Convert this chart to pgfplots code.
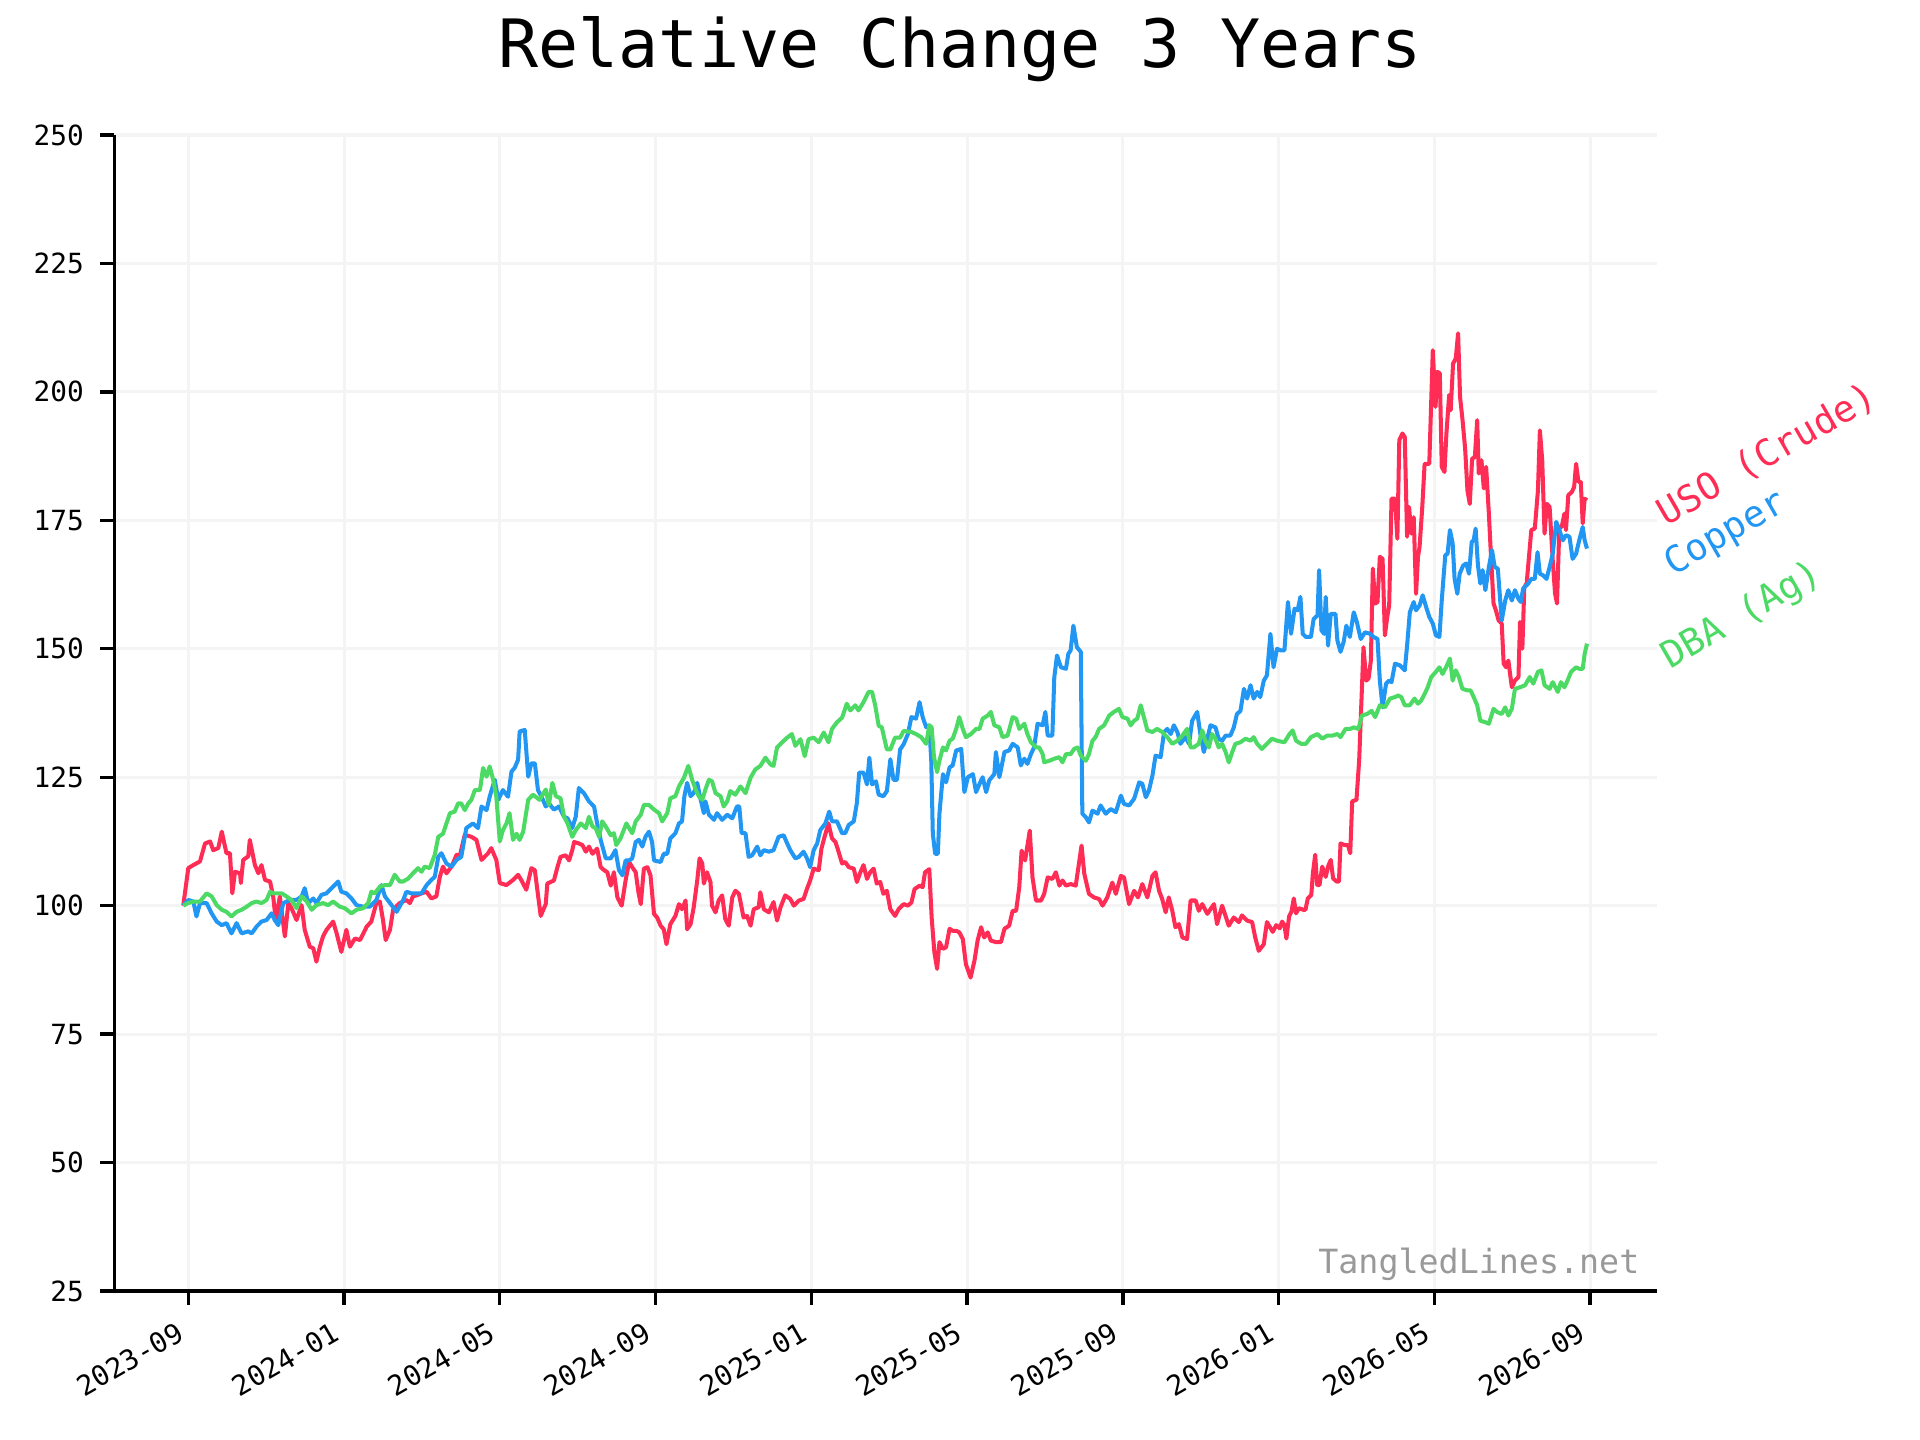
\documentclass[border=0pt]{standalone}
\usepackage{pgfplots}
\pgfplotsset{compat=1.18}
\usepackage{fontspec}
\setmainfont{DejaVu Sans Mono}
\definecolor{uso}{HTML}{FF2D55}
\definecolor{cop}{HTML}{2196F3}
\definecolor{dba}{HTML}{4CD964}
\definecolor{gridc}{HTML}{F4F4F4}
\definecolor{wm}{HTML}{999999}
\begin{document}
\begin{tikzpicture}
\useasboundingbox (0,0) rectangle (691.2pt,518.4pt);
\node[anchor=base, font=\fontsize{24}{28}\selectfont, inner sep=0pt] at (345.6pt,494pt) {Relative Change 3 Years};
\begin{axis}[
  at={(41.15pt,53.64pt)}, anchor=south west,
  scale only axis, width=555.26pt, height=416.16pt,
  xmin=-1.90, xmax=37.71, ymin=25, ymax=250,
  axis x line*=bottom, axis y line*=left,
  xtick={0,4,8,12,16,20,24,28,32,36},
  xticklabels={2023-09,2024-01,2024-05,2024-09,2025-01,2025-05,2025-09,2026-01,2026-05,2026-09},
  ytick={25,50,75,100,125,150,175,200,225,250},
  grid=major, major grid style={gridc, line width=1.1pt},
  tick align=outside, major tick length=5pt,
  every tick/.style={black, line width=1.2pt},
  axis line style={black, line width=1.2pt},
  tick label style={font=\fontsize{10}{12}\selectfont},
  /pgf/number format/assume math mode=true,
  yticklabel style={anchor=east, inner sep=0pt, xshift=-5.8pt},
  xticklabel style={xshift=-4.6pt, yshift=-5.5pt, rotate=30, anchor=north east, inner sep=0pt},
  clip=false,
  every axis plot/.append style={line width=1.45pt, line join=round},
]
\addplot[uso] coordinates {
(-0.13,100) (0,107.3) (0.13,107.9) (0.30,108.6) (0.43,112.1) (0.56,112.5) (0.64,110.8) (0.77,111.2) (0.86,114.4) (0.98,110.2)
(1.07,110.2) (1.13,102.4) (1.20,106.6) (1.33,106.3) (1.35,104.4) (1.41,108.9) (1.54,109.6) (1.58,112.8) (1.71,107.9) (1.80,106.3)
(1.88,107.9) (1.97,105.0) (2.10,104.7) (2.18,101.8) (2.25,96.9) (2.35,101.8) (2.48,94.0) (2.57,100.5) (2.65,99.5) (2.78,97.2)
(2.91,100.1) (2.99,95.3) (3.12,92.0) (3.21,91.7) (3.29,89.1) (3.38,92.0) (3.46,94.0) (3.55,95.3) (3.72,96.9) (3.81,94.6)
(3.93,91.0) (4.06,95.3) (4.15,92.0) (4.28,93.6) (4.41,93.3) (4.58,95.9) (4.70,96.9) (4.83,100.5) (4.92,100.8) (5.00,97.2)
(5.07,93.3) (5.18,95.3) (5.26,99.2) (5.43,100.5) (5.60,101.1) (5.69,100.5) (5.77,101.8) (5.90,102.1) (5.99,102.4) (6.12,102.7)
(6.24,101.4) (6.37,101.8) (6.46,105.6) (6.54,107.6) (6.63,106.3) (6.76,107.6) (6.89,109.9) (6.97,109.6) (7.10,113.8) (7.27,113.4)
(7.40,112.8) (7.53,108.9) (7.70,110.2) (7.78,111.2) (7.91,108.9) (8.00,104.4) (8.17,104.0) (8.34,105.0) (8.47,106.0) (8.55,105.0)
(8.68,103.1) (8.81,107.3) (8.90,106.9) (8.98,102.1) (9.05,98.0) (9.18,100.3) (9.22,104.3) (9.39,104.9) (9.48,107.5) (9.56,109.5)
(9.69,109.8) (9.78,108.8) (9.86,110.8) (9.91,112.4) (10.03,112.1) (10.12,111.8) (10.21,110.5) (10.29,111.5) (10.38,110.1) (10.50,111.1)
(10.59,107.5) (10.68,106.9) (10.76,106.5) (10.85,103.9) (10.93,106.5) (11.02,101.6) (11.13,100.0) (11.23,104.9) (11.32,108.5) (11.40,107.5)
(11.49,106.5) (11.56,102.6) (11.62,100.3) (11.70,107.2) (11.79,107.5) (11.87,105.9) (11.96,98.4) (12.04,97.7) (12.13,96.1) (12.21,95.4)
(12.28,92.5) (12.38,96.4) (12.51,98.0) (12.60,100.3) (12.68,99.3) (12.77,101.0) (12.81,95.4) (12.90,96.4) (12.98,99.7) (13.07,104.9)
(13.13,109.2) (13.20,108.2) (13.24,104.3) (13.32,106.5) (13.41,104.6) (13.45,100.0) (13.54,98.7) (13.62,101.0) (13.71,102.0) (13.79,97.4)
(13.88,96.1) (13.97,101.6) (14.05,102.9) (14.14,102.3) (14.26,97.7) (14.35,98.0) (14.44,96.1) (14.52,99.3) (14.65,99.7) (14.69,102.6)
(14.78,99.3) (14.91,98.7) (15.03,100.7) (15.12,97.1) (15.21,99.7) (15.33,102.0) (15.46,101.3) (15.55,100.0) (15.68,101.0) (15.80,101.3)
(15.89,103.3) (15.97,104.9) (16.06,107.2) (16.19,106.9) (16.26,111.1) (16.34,113.4) (16.44,116.0) (16.53,113.1) (16.62,112.4) (16.70,110.5)
(16.79,108.2) (16.87,108.5) (16.96,107.5) (17.09,107.2) (17.17,104.6) (17.26,106.5) (17.34,107.9) (17.43,105.2) (17.51,106.5) (17.60,107.2)
(17.68,104.3) (17.77,104.6) (17.85,102.3) (17.94,102.9) (18.03,99.3) (18.15,98.0) (18.24,99.3) (18.37,100.3) (18.48,100.0) (18.57,100.6)
(18.65,103.2) (18.78,103.9) (18.86,103.6) (18.92,106.5) (19.03,107.1) (19.09,97.7) (19.16,90.9) (19.23,87.7) (19.29,92.9) (19.38,91.6)
(19.46,91.9) (19.55,95.5) (19.63,95.1) (19.72,95.1) (19.80,94.8) (19.89,93.5) (19.97,88.6) (20.09,86.0) (20.19,89.3) (20.27,93.2)
(20.36,95.8) (20.44,93.8) (20.53,94.8) (20.61,93.2) (20.74,92.9) (20.87,92.9) (20.96,95.5) (21.08,96.1) (21.17,99.0) (21.26,99.0)
(21.34,103.6) (21.40,110.7) (21.49,108.8) (21.61,114.6) (21.68,105.5) (21.77,101.0) (21.90,101.0) (21.98,102.3) (22.07,105.5) (22.19,105.2)
(22.28,106.5) (22.37,103.9) (22.45,104.9) (22.54,103.9) (22.66,104.2) (22.79,103.9) (22.84,106.5) (22.94,111.7) (23.01,106.2) (23.13,102.3)
(23.26,101.6) (23.39,101.3) (23.48,100.0) (23.60,101.6) (23.73,104.5) (23.82,102.3) (23.95,105.8) (24.03,105.5) (24.16,100.3) (24.29,102.9)
(24.39,101.6) (24.50,104.2) (24.63,101.6) (24.76,105.8) (24.84,106.5) (24.93,102.9) (25.01,101.3) (25.10,98.7) (25.18,101.6) (25.27,99.0)
(25.35,95.8) (25.44,96.4) (25.53,93.8) (25.65,93.5) (25.74,101.0) (25.87,101.0) (25.95,99.0) (26.04,100.3) (26.17,98.4) (26.34,100.3)
(26.42,96.4) (26.55,100.0) (26.72,96.1) (26.85,97.7) (26.98,96.8) (27.06,98.1) (27.19,97.1) (27.32,96.8) (27.40,93.8) (27.49,91.2)
(27.62,92.5) (27.70,96.8) (27.85,94.9) (27.94,96.2) (28.03,95.6) (28.09,96.9) (28.15,96.2) (28.20,93.6) (28.27,97.9) (28.33,98.8)
(28.39,101.4) (28.45,98.5) (28.52,99.5) (28.63,99.2) (28.69,99.2) (28.75,101.4) (28.84,102.1) (28.88,106.3) (28.94,109.9) (28.99,104.0)
(29.05,104.0) (29.12,107.6) (29.21,105.6) (29.27,107.6) (29.34,108.9) (29.40,105.3) (29.49,104.7) (29.55,104.7) (29.59,112.1) (29.70,111.8)
(29.78,111.8) (29.84,110.2) (29.89,120.3) (30.00,120.6) (30.07,128.4) (30.18,150.3) (30.25,143.8) (30.31,144.2) (30.37,147.7) (30.42,165.6)
(30.48,158.8) (30.54,159.1) (30.60,167.9) (30.67,167.5) (30.73,152.6) (30.79,156.2) (30.84,158.4) (30.90,179.2) (30.99,179.2) (31.05,171.4)
(31.10,190.6) (31.18,191.9) (31.24,191.2) (31.30,171.8) (31.35,177.6) (31.41,172.4) (31.47,175.6) (31.53,160.7) (31.58,167.9) (31.62,169.8)
(31.69,177.6) (31.75,186.0) (31.87,186.0) (31.96,208.1) (32.03,197.1) (32.08,203.9) (32.14,203.6) (32.19,185.4) (32.26,184.4) (32.31,191.9)
(32.38,199.4) (32.42,196.4) (32.48,205.5) (32.55,206.5) (32.61,211.4) (32.66,199.0) (32.72,194.8) (32.79,189.0) (32.85,180.8) (32.91,178.2)
(32.97,187.0) (33.04,187.3) (33.10,194.5) (33.14,184.1) (33.21,186.7) (33.27,181.2) (33.33,185.4) (33.40,176.3) (33.46,167.2) (33.52,158.8)
(33.58,157.5) (33.65,155.5) (33.73,154.9) (33.78,147.1) (33.84,146.4) (33.90,147.7) (33.99,142.5) (34.07,143.8) (34.16,144.5) (34.20,155.2)
(34.26,150.0) (34.31,162.0) (34.37,162.7) (34.43,167.9) (34.49,173.1) (34.58,173.4) (34.66,180.8) (34.71,192.5) (34.77,186.7) (34.83,172.4)
(34.89,178.2) (34.96,177.6) (35.04,167.2) (35.10,160.7) (35.15,158.8) (35.21,173.7) (35.27,173.7) (35.34,176.3) (35.38,173.1) (35.44,179.9)
(35.53,180.5) (35.59,181.5) (35.64,186.0) (35.70,182.5) (35.76,182.5) (35.81,174.4) (35.86,179.2) (35.92,178.9)
};
\addplot[cop] coordinates {
(-0.13,100) (0,101.1) (0.13,100.8) (0.21,97.9) (0.30,100.5) (0.47,100.5) (0.60,98.5) (0.73,96.9) (0.86,96.2) (0.98,96.6)
(1.11,94.6) (1.24,96.6) (1.37,94.6) (1.54,95.0) (1.63,94.6) (1.75,95.9) (1.88,96.9) (2.01,97.2) (2.14,98.5) (2.22,97.2)
(2.31,96.2) (2.44,100.5) (2.61,101.1) (2.78,101.1) (2.91,101.8) (2.99,103.4) (3.08,100.5) (3.21,101.4) (3.29,100.5) (3.42,102.1)
(3.55,102.4) (3.72,103.7) (3.85,104.7) (3.93,102.7) (4.06,102.4) (4.19,101.4) (4.32,100.1) (4.49,99.8) (4.66,99.8) (4.83,101.1)
(4.96,104.0) (5.05,101.8) (5.18,100.5) (5.35,98.8) (5.52,101.1) (5.60,102.7) (5.73,102.4) (5.86,102.4) (5.99,102.4) (6.12,104.0)
(6.24,105.0) (6.33,105.6) (6.42,109.5) (6.50,110.2) (6.63,108.2) (6.76,107.6) (6.89,108.9) (7.01,109.5) (7.14,115.1) (7.31,116.0)
(7.44,115.1) (7.53,119.3) (7.66,118.6) (7.74,121.2) (7.87,124.5) (7.96,120.6) (8.08,122.5) (8.21,121.2) (8.30,126.1) (8.38,126.8)
(8.47,128.4) (8.51,133.9) (8.64,134.2) (8.73,125.1) (8.81,127.7) (8.90,127.7) (8.98,122.5) (9.09,120.9) (9.18,119.3) (9.26,119.9)
(9.39,118.7) (9.52,119.3) (9.65,117.3) (9.74,117.0) (9.86,115.1) (9.95,117.3) (10.03,122.9) (10.16,121.9) (10.29,120.3) (10.42,119.3)
(10.50,116.0) (10.59,112.8) (10.72,109.2) (10.85,109.2) (10.97,110.8) (11.06,106.9) (11.15,105.9) (11.23,108.8) (11.32,108.8) (11.40,109.2)
(11.49,112.4) (11.57,112.8) (11.66,111.5) (11.74,113.4) (11.83,114.4) (11.91,112.4) (11.96,108.8) (12.13,108.5) (12.21,110.1) (12.30,110.1)
(12.38,113.1) (12.51,114.1) (12.60,116.0) (12.68,116.4) (12.74,121.3) (12.81,123.9) (12.90,121.3) (12.98,121.9) (13.07,123.9) (13.15,120.9)
(13.24,118.0) (13.28,120.3) (13.37,117.7) (13.50,116.7) (13.58,118.0) (13.71,116.7) (13.84,117.7) (13.97,117.0) (14.09,119.3) (14.15,119.3)
(14.21,114.1) (14.31,114.1) (14.39,109.5) (14.48,109.8) (14.61,111.5) (14.69,109.8) (14.78,110.8) (14.91,110.5) (15.03,110.8) (15.16,113.4)
(15.29,113.7) (15.38,112.1) (15.46,110.8) (15.59,109.2) (15.68,109.5) (15.80,110.5) (15.89,109.2) (15.97,107.5) (16.06,110.8) (16.15,112.1)
(16.23,114.7) (16.36,116.0) (16.46,118.3) (16.53,116.4) (16.66,116.4) (16.79,114.1) (16.87,114.1) (16.96,115.7) (17.09,116.4) (17.17,120.0)
(17.23,125.9) (17.34,125.9) (17.43,123.6) (17.49,128.8) (17.56,123.6) (17.66,124.2) (17.73,121.6) (17.85,121.3) (17.94,122.3) (18.03,128.5)
(18.11,124.5) (18.20,124.5) (18.28,130.4) (18.37,131.4) (18.48,133.4) (18.57,136.7) (18.69,136.4) (18.78,139.6) (18.86,136.7) (18.95,134.7)
(19.03,135.1) (19.08,128.2) (19.12,114.0) (19.18,110.1) (19.25,110.1) (19.29,117.9) (19.38,125.6) (19.46,124.0) (19.55,126.9) (19.63,127.3)
(19.72,130.2) (19.85,130.5) (19.93,122.1) (20.02,125.0) (20.15,125.6) (20.23,122.1) (20.32,123.7) (20.40,125.0) (20.49,122.1) (20.57,124.4)
(20.70,125.6) (20.74,129.9) (20.83,125.0) (20.96,129.9) (21.08,130.2) (21.17,131.5) (21.30,130.8) (21.38,127.3) (21.47,128.6) (21.55,127.6)
(21.64,129.5) (21.72,130.8) (21.81,135.4) (21.94,135.1) (22.01,137.7) (22.07,133.1) (22.19,133.1) (22.24,144.5) (22.31,148.7) (22.41,146.4)
(22.54,146.1) (22.60,149.0) (22.66,149.7) (22.73,154.5) (22.82,150.3) (22.92,149.4) (22.96,117.9) (23.05,117.2) (23.13,116.2) (23.22,118.5)
(23.35,117.9) (23.43,119.5) (23.56,117.9) (23.69,118.8) (23.82,118.2) (23.95,121.4) (24.03,119.8) (24.16,119.5) (24.29,120.8) (24.42,124.0)
(24.50,123.7) (24.59,121.1) (24.67,122.4) (24.76,125.3) (24.84,129.2) (24.97,128.9) (25.06,133.8) (25.14,134.4) (25.23,133.4) (25.31,135.1)
(25.40,133.8) (25.48,131.5) (25.61,132.8) (25.70,131.5) (25.78,136.0) (25.91,137.7) (25.99,133.4) (26.08,129.9) (26.17,132.5) (26.25,135.1)
(26.38,134.7) (26.46,132.5) (26.55,132.1) (26.64,133.1) (26.76,133.1) (26.85,134.7) (26.93,137.3) (27.02,137.9) (27.11,142.2) (27.19,140.3)
(27.28,142.9) (27.36,140.3) (27.45,141.6) (27.53,140.6) (27.62,143.8) (27.70,144.8) (27.79,152.9) (27.87,146.4) (27.96,150.0) (28.05,149.7)
(28.15,149.7) (28.24,159.1) (28.32,152.9) (28.41,157.8) (28.49,157.5) (28.56,160.1) (28.62,152.9) (28.70,152.3) (28.83,152.3) (28.90,155.8)
(29.00,156.5) (29.04,165.3) (29.10,153.6) (29.17,152.9) (29.21,160.1) (29.27,150.6) (29.34,156.8) (29.46,156.8) (29.51,151.6) (29.59,149.4)
(29.67,151.3) (29.74,154.5) (29.83,152.3) (29.93,157.1) (30.01,155.2) (30.11,151.9) (30.22,153.2) (30.35,152.9) (30.44,152.3) (30.54,151.9)
(30.60,143.8) (30.67,138.6) (30.76,143.2) (30.84,143.8) (30.90,143.5) (30.99,147.1) (31.11,146.8) (31.24,145.8) (31.30,150.6) (31.37,157.1)
(31.47,159.1) (31.53,157.5) (31.62,158.4) (31.70,160.4) (31.79,158.1) (31.87,156.2) (31.96,154.9) (32.04,152.6) (32.13,152.3) (32.19,159.4)
(32.28,168.2) (32.34,168.5) (32.40,173.1) (32.47,170.5) (32.52,163.6) (32.59,160.7) (32.65,164.6) (32.74,166.2) (32.82,166.6) (32.89,164.6)
(32.96,170.8) (33.01,171.1) (33.06,173.4) (33.12,166.2) (33.18,162.7) (33.24,165.3) (33.31,161.4) (33.40,165.9) (33.48,169.2) (33.55,165.9)
(33.63,165.6) (33.73,155.5) (33.82,159.4) (33.90,161.4) (33.99,159.4) (34.07,161.4) (34.16,159.7) (34.22,159.1) (34.28,161.7) (34.41,162.7)
(34.49,163.6) (34.58,163.6) (34.65,168.8) (34.71,164.6) (34.79,164.3) (34.88,163.6) (34.96,165.9) (35.04,168.5) (35.13,174.7) (35.21,173.1)
(35.30,171.1) (35.38,172.1) (35.47,171.8) (35.55,167.5) (35.64,168.5) (35.72,171.1) (35.81,173.7) (35.86,171.1) (35.92,169.5)
};
\addplot[dba] coordinates {
(-0.13,100) (0,100.5) (0.13,100.8) (0.30,100.8) (0.47,102.4) (0.60,101.8) (0.73,100.1) (0.86,99.2) (0.98,98.8) (1.11,97.9)
(1.24,98.8) (1.37,99.2) (1.50,99.8) (1.63,100.5) (1.75,100.8) (1.88,100.5) (2.01,101.1) (2.10,102.7) (2.18,102.4) (2.27,102.4)
(2.40,102.4) (2.52,101.8) (2.65,101.1) (2.78,99.5) (2.91,101.8) (3.04,100.8) (3.17,99.2) (3.29,100.1) (3.46,100.5) (3.59,100.1)
(3.72,100.8) (3.89,99.8) (4.02,99.5) (4.19,98.5) (4.32,99.2) (4.49,99.5) (4.62,100.5) (4.70,102.7) (4.79,102.4) (4.92,103.7)
(5.05,104.0) (5.18,104.0) (5.30,106.0) (5.43,104.7) (5.52,104.7) (5.65,105.3) (5.77,106.3) (5.90,107.3) (5.99,106.6) (6.07,107.6)
(6.20,107.3) (6.33,109.9) (6.42,113.4) (6.54,114.0) (6.63,116.0) (6.72,118.0) (6.84,118.3) (6.93,119.9) (7.01,119.9) (7.10,118.6)
(7.19,119.9) (7.27,120.6) (7.36,122.5) (7.49,122.5) (7.57,126.8) (7.66,125.1) (7.74,127.1) (7.83,124.5) (7.91,121.2) (8.00,112.5)
(8.08,114.7) (8.17,116.0) (8.25,118.0) (8.34,112.8) (8.43,114.0) (8.51,112.8) (8.60,114.4) (8.73,120.6) (8.85,121.6) (9.02,120.6)
(9.18,122.6) (9.26,119.6) (9.35,123.9) (9.44,121.3) (9.56,120.9) (9.65,117.3) (9.74,116.0) (9.86,113.4) (9.95,114.7) (10.08,116.0)
(10.21,115.1) (10.29,117.3) (10.38,115.4) (10.46,115.1) (10.55,113.4) (10.63,116.4) (10.72,115.4) (10.85,113.7) (10.93,114.1) (10.99,111.8)
(11.10,113.1) (11.25,116.0) (11.32,115.1) (11.40,114.1) (11.49,116.4) (11.62,117.7) (11.70,119.6) (11.83,119.6) (11.96,118.7) (12.09,118.0)
(12.17,116.4) (12.30,118.0) (12.38,120.9) (12.51,121.3) (12.60,123.2) (12.73,124.9) (12.84,127.2) (12.94,124.5) (13.03,122.6) (13.11,121.3)
(13.20,120.6) (13.28,122.6) (13.37,124.5) (13.45,124.2) (13.54,121.9) (13.67,121.3) (13.75,119.3) (13.84,120.3) (13.92,122.3) (14.05,121.6)
(14.18,123.2) (14.31,121.9) (14.44,124.9) (14.56,126.5) (14.69,127.2) (14.82,128.8) (14.95,127.5) (15.03,127.2) (15.12,130.8) (15.25,131.8)
(15.38,132.7) (15.50,133.4) (15.59,131.1) (15.72,132.4) (15.83,129.1) (15.93,132.4) (16.06,132.7) (16.19,131.8) (16.32,133.7) (16.44,131.8)
(16.53,134.4) (16.66,135.7) (16.79,136.6) (16.91,139.3) (17.00,138.0) (17.13,139.0) (17.21,138.0) (17.34,139.6) (17.47,141.6) (17.56,141.6)
(17.64,139.0) (17.73,135.0) (17.81,134.7) (17.94,130.4) (18.03,130.4) (18.15,132.7) (18.28,132.7) (18.37,134.0) (18.57,133.8) (18.69,133.4)
(18.82,132.8) (18.95,131.5) (19.03,135.1) (19.09,134.7) (19.15,128.9) (19.23,126.0) (19.29,128.2) (19.38,130.8) (19.46,130.2) (19.55,132.1)
(19.63,132.5) (19.72,134.4) (19.80,136.7) (19.89,134.4) (19.97,132.8) (20.10,133.4) (20.23,134.4) (20.32,134.4) (20.40,136.4) (20.53,137.0)
(20.61,137.7) (20.70,135.1) (20.83,134.7) (20.91,132.8) (21.04,133.1) (21.17,136.7) (21.26,136.4) (21.34,134.4) (21.47,135.4) (21.55,133.4)
(21.64,131.8) (21.77,130.8) (21.85,130.8) (21.94,129.5) (21.98,127.9) (22.11,128.2) (22.24,128.6) (22.37,128.9) (22.45,127.9) (22.54,129.5)
(22.66,129.5) (22.75,130.5) (22.84,130.8) (22.92,129.2) (23.05,128.2) (23.13,129.5) (23.22,132.1) (23.30,132.8) (23.39,134.4) (23.52,135.1)
(23.65,137.0) (23.77,137.7) (23.90,138.3) (23.99,136.7) (24.12,136.4) (24.20,135.1) (24.29,136.0) (24.37,136.4) (24.46,139.0) (24.54,136.7)
(24.63,134.1) (24.76,133.8) (24.88,134.4) (25.01,133.8) (25.14,132.8) (25.27,131.5) (25.40,132.1) (25.53,133.1) (25.65,134.4) (25.74,130.8)
(25.82,130.8) (25.95,131.5) (26.04,134.1) (26.12,132.1) (26.21,130.8) (26.29,133.4) (26.38,132.5) (26.46,130.8) (26.55,131.5) (26.64,129.9)
(26.72,127.9) (26.81,129.9) (26.89,131.5) (27.02,131.8) (27.15,132.5) (27.28,132.1) (27.36,132.8) (27.45,131.5) (27.57,130.5) (27.70,131.5)
(27.83,132.5) (27.96,132.1) (28.15,131.8) (28.28,133.4) (28.36,134.1) (28.45,132.1) (28.58,131.5) (28.70,131.5) (28.83,132.8) (29.00,133.4)
(29.12,132.5) (29.25,133.1) (29.38,133.1) (29.51,133.4) (29.59,132.8) (29.72,134.4) (29.84,134.4) (29.93,134.7) (30.05,134.4) (30.14,137.0)
(30.27,137.3) (30.39,137.9) (30.48,136.7) (30.60,139.0) (30.73,138.6) (30.86,140.3) (30.99,140.6) (31.07,140.9) (31.15,140.6) (31.24,139.0)
(31.37,139.0) (31.49,140.3) (31.58,139.3) (31.66,139.9) (31.75,141.2) (31.83,142.5) (31.92,144.5) (32.04,145.5) (32.13,146.4) (32.21,145.1)
(32.30,146.4) (32.40,148.1) (32.47,143.8) (32.55,145.8) (32.63,144.5) (32.72,142.2) (32.85,141.9) (32.93,141.9) (33.01,140.6) (33.10,139.0)
(33.18,136.0) (33.31,135.7) (33.40,135.4) (33.52,138.3) (33.61,137.7) (33.73,137.3) (33.82,138.6) (33.90,137.0) (33.99,138.3) (34.07,142.2)
(34.20,142.5) (34.33,142.9) (34.45,144.5) (34.54,143.2) (34.66,145.5) (34.75,145.8) (34.83,142.9) (34.96,142.2) (35.04,143.5) (35.17,141.6)
(35.25,143.5) (35.34,142.5) (35.42,143.8) (35.51,145.5) (35.64,146.4) (35.72,146.1) (35.81,146.1) (35.86,149.0) (35.92,151.0)
};
\node[uso, rotate=30, anchor=base west, inner sep=0pt, font=\fontsize{13.3}{16}\selectfont] at (axis cs:37.96,173.8) {USO (Crude)};
\node[cop, rotate=30, anchor=base west, inner sep=0pt, font=\fontsize{13.3}{16}\selectfont] at (axis cs:38.12,164.1) {Copper};
\node[dba, rotate=30, anchor=base west, inner sep=0pt, font=\fontsize{13.3}{16}\selectfont] at (axis cs:38.04,145.9) {DBA (Ag)};
\node[wm, anchor=base east, inner sep=0pt, font=\fontsize{12}{14}\selectfont] at (axis cs:37.28,28.5) {TangledLines.net};
\end{axis}
\end{tikzpicture}
\end{document}
